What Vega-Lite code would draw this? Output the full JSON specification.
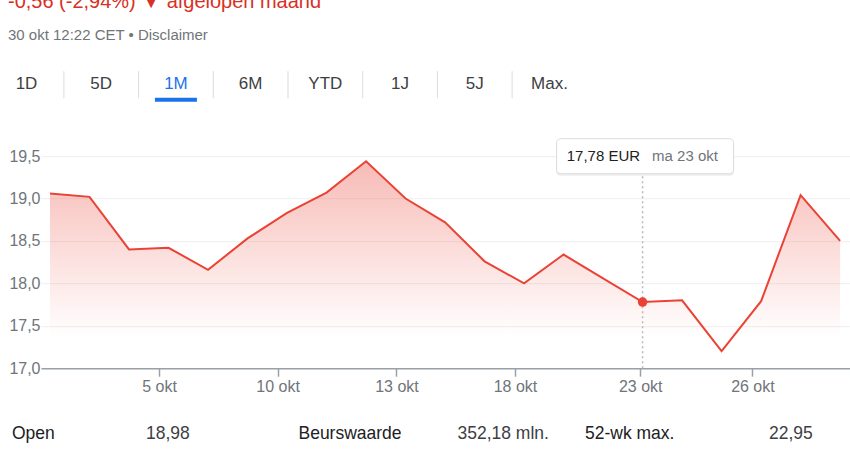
{
  "$schema": "https://vega.github.io/schema/vega-lite/v6.json",
  "background": "white",
  "padding": {"left": 8, "top": -8.8, "right": 0, "bottom": 0},
  "spacing": 30,
  "config": {
    "view": {"stroke": null},
    "font": "Liberation Sans",
    "locale": {
      "number": {"decimal": ",", "thousands": ".", "grouping": [3], "currency": ["", " EUR"]}
    }
  },
  "title": {
    "text": "-0,56 (-2,94%) ▼ afgelopen maand",
    "subtitle": "30 okt 12:22 CET • Disclaimer",
    "anchor": "start",
    "frame": "bounds",
    "font": "Liberation Sans",
    "fontSize": 20,
    "fontWeight": "normal",
    "color": "#d93025",
    "subtitleFont": "Liberation Sans",
    "subtitleFontSize": 15,
    "subtitleColor": "#70757a",
    "subtitlePadding": 15.6,
    "offset": 28
  },
  "datasets": {
    "koers": [
      {"i": 0, "datum": "2023-10-02", "dag": "ma 2 okt", "price": 19.06},
      {"i": 1, "datum": "2023-10-03", "dag": "di 3 okt", "price": 19.02},
      {"i": 2, "datum": "2023-10-04", "dag": "wo 4 okt", "price": 18.40},
      {"i": 3, "datum": "2023-10-05", "dag": "do 5 okt", "price": 18.42},
      {"i": 4, "datum": "2023-10-06", "dag": "vr 6 okt", "price": 18.16},
      {"i": 5, "datum": "2023-10-09", "dag": "ma 9 okt", "price": 18.53},
      {"i": 6, "datum": "2023-10-10", "dag": "di 10 okt", "price": 18.83},
      {"i": 7, "datum": "2023-10-11", "dag": "wo 11 okt", "price": 19.07},
      {"i": 8, "datum": "2023-10-12", "dag": "do 12 okt", "price": 19.44},
      {"i": 9, "datum": "2023-10-13", "dag": "vr 13 okt", "price": 19.00},
      {"i": 10, "datum": "2023-10-16", "dag": "ma 16 okt", "price": 18.72},
      {"i": 11, "datum": "2023-10-17", "dag": "di 17 okt", "price": 18.26},
      {"i": 12, "datum": "2023-10-18", "dag": "wo 18 okt", "price": 18.00},
      {"i": 13, "datum": "2023-10-19", "dag": "do 19 okt", "price": 18.34},
      {"i": 14, "datum": "2023-10-20", "dag": "vr 20 okt", "price": 18.06},
      {"i": 15, "datum": "2023-10-23", "dag": "ma 23 okt", "price": 17.78},
      {"i": 16, "datum": "2023-10-24", "dag": "di 24 okt", "price": 17.80},
      {"i": 17, "datum": "2023-10-25", "dag": "wo 25 okt", "price": 17.20},
      {"i": 18, "datum": "2023-10-26", "dag": "do 26 okt", "price": 17.79},
      {"i": 19, "datum": "2023-10-27", "dag": "vr 27 okt", "price": 19.04},
      {"i": 20, "datum": "2023-10-30", "dag": "ma 30 okt", "price": 18.50}
    ],
    "tabs": [
      {"tab": "1D"}, {"tab": "5D"}, {"tab": "1M"}, {"tab": "6M"},
      {"tab": "YTD"}, {"tab": "1J"}, {"tab": "5J"}, {"tab": "Max."}
    ],
    "stats": [
      {"groep": 1, "label": "Open", "waarde": "18,98"},
      {"groep": 2, "label": "Beurswaarde", "waarde": "352,18 mln."},
      {"groep": 3, "label": "52-wk max.", "waarde": "22,95"}
    ]
  },
  "vconcat": [
    {
      "width": 560,
      "height": 27,
      "data": {"name": "tabs"},
      "layer": [
        {
          "mark": {"type": "text", "fontSize": 17, "align": "center", "baseline": "middle", "dx": -33, "dy": -1, "font": "Liberation Sans"},
          "encoding": {
            "x": {"field": "tab", "type": "ordinal", "sort": null, "scale": {"type": "point", "padding": 0.2477}, "axis": null},
            "text": {"field": "tab"},
            "color": {"condition": {"test": "datum.tab === '1M'", "value": "#1a73e8"}, "value": "#3c4043"}
          }
        },
        {
          "transform": [{"filter": "datum.tab !== 'Max.'"}],
          "mark": {"type": "rule", "xOffset": 4.35, "color": "#dadce0", "strokeWidth": 1},
          "encoding": {
            "x": {"field": "tab", "type": "ordinal", "sort": null}
          }
        },
        {
          "transform": [{"filter": "datum.tab === '1M'"}],
          "mark": {"type": "point", "shape": "M -1 -0.095 L 1 -0.095 L 1 0.095 L -1 0.095 Z", "size": 1764, "filled": true, "opacity": 1, "fill": "#1a73e8", "stroke": "transparent", "strokeWidth": 2.5, "xOffset": -33, "yOffset": 15},
          "encoding": {
            "x": {"field": "tab", "type": "ordinal", "sort": null}
          }
        }
      ]
    },
    {
      "width": 809,
      "height": 229,
      "data": {"name": "koers"},
      "layer": [
        {
          "mark": {
            "type": "area",
            "color": {
              "gradient": "linear", "x1": 0, "y1": 0, "x2": 0, "y2": 1,
              "stops": [
                {"offset": 0, "color": "rgba(234,67,53,0.36)"},
                {"offset": 0.85, "color": "rgba(234,67,53,0)"}
              ]
            }
          },
          "encoding": {
            "x": {
              "field": "i", "type": "quantitative",
              "scale": {"domain": [-0.228, 20.25], "nice": false, "zero": false},
              "axis": {
                "values": [2.76, 5.76, 8.77, 11.77, 14.94, 17.78],
                "labelExpr": "datum.value < 3 ? '5 okt' : datum.value < 6 ? '10 okt' : datum.value < 9 ? '13 okt' : datum.value < 12 ? '18 okt' : datum.value < 15 ? '23 okt' : '26 okt'",
                "grid": false,
                "title": null,
                "domainColor": "#9aa0a6",
                "domainWidth": 1.5,
                "tickColor": "#9aa0a6",
                "tickWidth": 1.5,
                "tickSize": 8,
                "labelColor": "#70757a",
                "labelFontSize": 16,
                "labelFont": "Liberation Sans",
                "labelPadding": 2
              }
            },
            "y": {
              "field": "price", "type": "quantitative",
              "scale": {"domain": [17, 19.7], "nice": false, "zero": false},
              "axis": {
                "values": [17, 17.5, 18, 18.5, 19, 19.5],
                "format": ".1f",
                "title": null,
                "domain": false,
                "ticks": false,
                "grid": true,
                "gridColor": "#eeeeee",
                "gridWidth": 1,
                "labelColor": "#70757a",
                "labelFontSize": 16,
                "labelFont": "Liberation Sans",
                "labelPadding": 1,
                "minExtent": 33,
                "maxExtent": 33
              }
            },
            "y2": {"datum": 17}
          }
        },
        {
          "mark": {"type": "line", "color": "#ea4335", "strokeWidth": 2},
          "encoding": {
            "x": {"field": "i", "type": "quantitative"},
            "y": {"field": "price", "type": "quantitative"}
          }
        },
        {
          "transform": [{"filter": "datum.i === 15"}],
          "mark": {"type": "rule", "strokeDash": [2, 3], "color": "#b8b8b8", "strokeWidth": 1.5},
          "encoding": {
            "x": {"field": "i", "type": "quantitative"},
            "y": {"datum": 17},
            "y2": {"datum": 19.5}
          }
        },
        {
          "transform": [{"filter": "datum.i === 15"}],
          "mark": {"type": "point", "filled": true, "size": 90, "color": "#ea4335", "opacity": 1},
          "encoding": {
            "x": {"field": "i", "type": "quantitative"},
            "y": {"field": "price", "type": "quantitative"}
          }
        },
        {
          "transform": [{"filter": "datum.i === 15"}],
          "mark": {"type": "rect", "width": 178, "height": 36, "xOffset": 2.5, "yOffset": 1.5, "fill": "#000000", "opacity": 0.07, "cornerRadius": 4},
          "encoding": {
            "x": {"field": "i", "type": "quantitative"},
            "y": {"datum": 19.5}
          }
        },
        {
          "transform": [{"filter": "datum.i === 15"}],
          "mark": {"type": "rect", "width": 177, "height": 35, "xOffset": 2.5, "fill": "#ffffff", "stroke": "#dadce0", "strokeWidth": 1, "opacity": 1, "cornerRadius": 4},
          "encoding": {
            "x": {"field": "i", "type": "quantitative"},
            "y": {"datum": 19.5}
          }
        },
        {
          "transform": [{"filter": "datum.i === 15"}],
          "mark": {"type": "text", "align": "right", "baseline": "middle", "dx": -2.5, "fontSize": 15, "color": "#202124", "font": "Liberation Sans"},
          "encoding": {
            "x": {"field": "i", "type": "quantitative"},
            "y": {"datum": 19.5},
            "text": {"field": "price", "type": "quantitative", "format": "$.2f"}
          }
        },
        {
          "transform": [{"filter": "datum.i === 15"}],
          "mark": {"type": "text", "align": "left", "baseline": "middle", "dx": 9.5, "fontSize": 15, "color": "#70757a", "font": "Liberation Sans"},
          "encoding": {
            "x": {"field": "i", "type": "quantitative"},
            "y": {"datum": 19.5},
            "text": {"field": "dag"}
          }
        }
      ]
    },
    {
      "width": 809,
      "height": 20,
      "data": {"name": "stats"},
      "resolve": {"scale": {"x": "independent"}},
      "layer": [
        {
          "mark": {"type": "text", "align": "left", "baseline": "middle", "fontSize": 17.5, "dx": -29, "dy": -19.5, "color": "#202124", "font": "Liberation Sans"},
          "encoding": {
            "x": {"field": "groep", "type": "ordinal", "sort": null, "bandPosition": 0, "scale": {"type": "band", "paddingInner": 0.1763, "paddingOuter": 0, "align": 0}, "axis": null},
            "text": {"field": "label"}
          }
        },
        {
          "mark": {"type": "text", "align": "left", "baseline": "middle", "fontSize": 17.5, "dx": 105, "dy": -19.5, "color": "#3c4043", "font": "Liberation Sans"},
          "encoding": {
            "x": {"field": "groep", "type": "ordinal", "sort": null, "bandPosition": 0, "scale": {"type": "band", "paddingInner": 0.403, "paddingOuter": 0, "align": 0}, "axis": null},
            "text": {"field": "waarde"}
          }
        }
      ]
    }
  ]
}
